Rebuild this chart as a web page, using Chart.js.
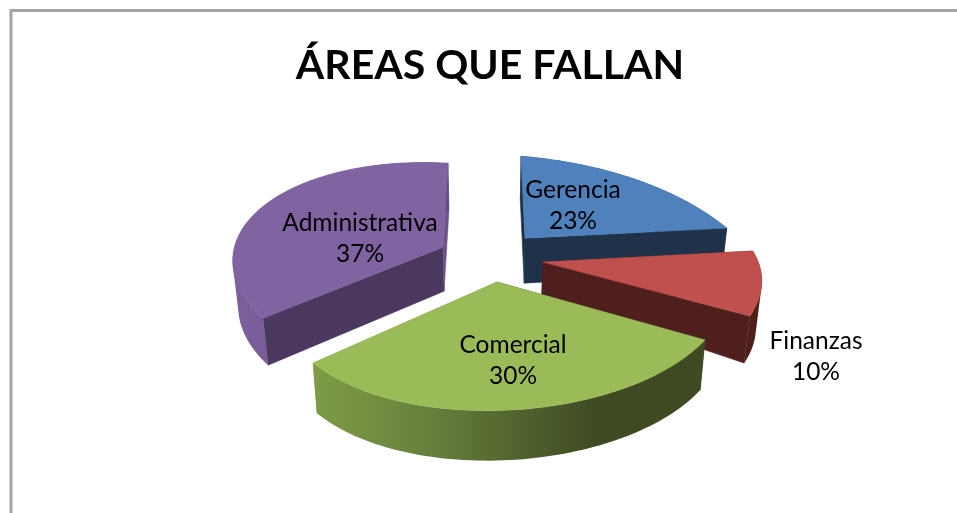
<!DOCTYPE html>
<html lang="es">
<head>
<meta charset="utf-8">
<title>Áreas que fallan</title>
<script src="https://cdn.jsdelivr.net/npm/chart.js@4"></script>
<style>
html,body{margin:0;padding:0;background:#fff;overflow:hidden}
canvas{display:block}
</style>
</head>
<body>
<canvas id="c" width="957" height="513"></canvas>
<script>
const chartTitle = 'ÁREAS QUE FALLAN';
const categories = ['Gerencia', 'Finanzas', 'Comercial', 'Administrativa'];
const percentages = [23, 10, 30, 37];
const topColors = ['#4f81bd', '#c0504d', '#9bbb59', '#8064a2'];

// Per-slice projection of the flat pie onto the tilted, exploded 3D view.
const sliceViews = [
  {dx:35, dy:-69, a:265.9, b:6.38,  c:3.37,  d:130.9, g:.2293,  h:-.596,  depth:44, apexDepth:45,
   startFace:'#1d3047', endFace:'#1f3249', wall:['#1f3249','#1f3249'], label:[48,-34]},
  {dx:53, dy:-45, a:233.6, b:-13.9, c:.96,   d:105.4, g:.0826,  h:-.2406, depth:47, apexDepth:33,
   startFace:'#4f1f1e', endFace:'#4f1f1e', wall:['#4f1f1e','#4f1f1e'], label:[273,93]},
  {dx:7,  dy:-25, a:219,   b:-16.6, c:-1.3,  d:108.7, g:-.0478, h:-.154,  depth:50, apexDepth:40,
   startFace:'#3f4a22', endFace:'#7d9945', wallGradient:[[0,'#7f9c46'],[.3,'#66803b'],[.72,'#3f4a22'],[1,'#3f4a22']], label:[16,77]},
  {dx:-47,dy:-60, a:205.4, b:-6.10, c:12.92, d:102.5, g:-.0078, h:-.2204, depth:47, apexDepth:44,
   startFace:'#4a385f', endFace:'#6b5388', wall:['#7c609c','#64497f'], label:[-83,-10]}
];
const paintOrder = [0, 3, 1, 2];
const REF_RADIUS = 206;

function project(arc, view, u, v) {
  const s = arc.outerRadius / REF_RADIUS;
  const w = 1 + view.g * u + view.h * v;
  return {
    x: arc.x + (view.dx + (view.a * u + view.b * v) / w) * s,
    y: arc.y + (view.dy + (view.c * u + view.d * v) / w) * s
  };
}
function drop(arc, p, depth) {
  return {x: p.x + (arc.x - p.x) * 0.022, y: p.y + depth};
}
function trace(ctx, pts) {
  pts.forEach((p, i) => i ? ctx.lineTo(p.x, p.y) : ctx.moveTo(p.x, p.y));
  ctx.closePath();
}
function poly(ctx, pts, fill) {
  ctx.beginPath();
  trace(ctx, pts);
  ctx.fillStyle = fill;
  ctx.fill();
  ctx.strokeStyle = fill;
  ctx.lineWidth = 0.6;
  ctx.stroke();
}
function signedArea(pts) {
  let a = 0;
  pts.forEach((p, i) => {
    const q = pts[(i + 1) % pts.length];
    a += p.x * q.y - q.x * p.y;
  });
  return a;
}

const pie3d = {
  id: 'pie3d',
  beforeDraw(chart) {
    const ctx = chart.ctx;
    ctx.save();
    ctx.fillStyle = '#fff';
    ctx.fillRect(0, 0, chart.width, chart.height);
    ctx.strokeStyle = '#a3a3a3';
    ctx.lineWidth = 3;
    ctx.beginPath();
    ctx.moveTo(11, chart.height);
    ctx.lineTo(11, 10.5);
    ctx.lineTo(chart.width, 10.5);
    ctx.stroke();
    ctx.restore();
  },
  beforeDatasetDraw() { return false; },
  afterDatasetsDraw(chart) {
    const ctx = chart.ctx;
    const arcs = chart.getDatasetMeta(0).data;
    ctx.save();
    paintOrder.forEach(i => {
      const arc = arcs[i], view = sliceViews[i];
      const rim = [];
      const steps = 72;
      for (let k = 0; k <= steps; k++) {
        const t = arc.startAngle + (arc.endAngle - arc.startAngle) * k / steps;
        rim.push(project(arc, view, Math.cos(t), Math.sin(t)));
      }
      const apex = project(arc, view, 0, 0);
      const apexLow = drop(arc, apex, view.apexDepth);
      const rimLow = rim.map(p => drop(arc, p, view.depth));
      poly(ctx, [apex, rim[0], rimLow[0], apexLow], view.startFace);
      poly(ctx, [apex, rim[steps], rimLow[steps], apexLow], view.endFace);

      const xs = rim.map(p => p.x);
      const grad = ctx.createLinearGradient(Math.min(...xs), 0, Math.max(...xs), 0);
      if (view.wallGradient) {
        view.wallGradient.forEach(s => grad.addColorStop(s[0], s[1]));
      } else {
        grad.addColorStop(0, view.wall[0]);
        grad.addColorStop(1, view.wall[1]);
      }
      // One path of same-wound quads, so the swept wall fills without seams.
      ctx.beginPath();
      for (let k = 0; k < steps; k++) {
        const quad = [rim[k], rim[k + 1], rimLow[k + 1], rimLow[k]];
        trace(ctx, signedArea(quad) < 0 ? quad.reverse() : quad);
      }
      ctx.fillStyle = grad;
      ctx.fill();
      poly(ctx, [apex].concat(rim), topColors[i]);
    });

    ctx.fillStyle = '#000';
    ctx.font = '24.5px Lato, sans-serif';
    ctx.textAlign = 'center';
    ctx.textBaseline = 'middle';
    arcs.forEach((arc, i) => {
      const view = sliceViews[i];
      const apex = project(arc, view, 0, 0);
      const x = apex.x + view.label[0], y = apex.y + view.label[1] + 1;
      ctx.fillText(categories[i], x, y - 15.5);
      ctx.fillText(percentages[i] + '%', x, y + 15.5);
    });
    ctx.restore();
  }
};

new Chart(document.getElementById('c'), {
  type: 'pie',
  data: {
    labels: categories,
    datasets: [{data: percentages, backgroundColor: topColors, borderWidth: 0}]
  },
  options: {
    responsive: false,
    animation: false,
    events: [],
    layout: {padding: {left: 23}},
    plugins: {
      legend: {display: false},
      tooltip: {enabled: false},
      title: {
        display: true,
        text: chartTitle,
        color: '#000',
        font: {family: 'Lato, sans-serif', size: 41, weight: 'bold', lineHeight: 1.2},
        padding: {top: 41, bottom: 11}
      }
    }
  },
  plugins: [pie3d]
});
</script>
</body>
</html>
